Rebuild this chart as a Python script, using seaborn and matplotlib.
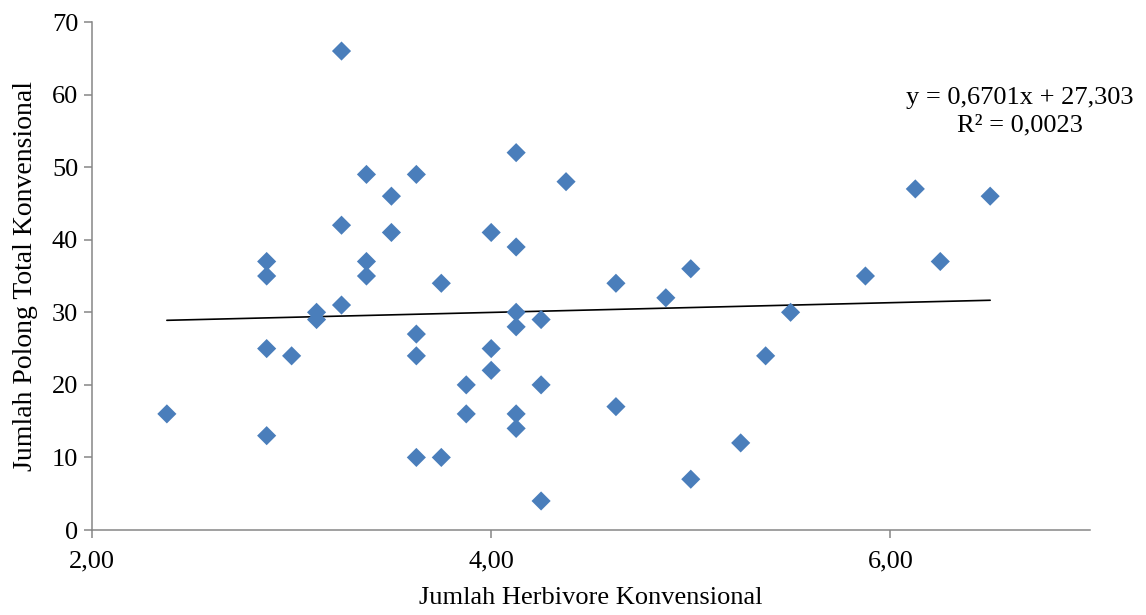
import matplotlib
matplotlib.use("Agg")
import matplotlib.pyplot as plt
import seaborn as sns
import numpy as np
import pandas as pd
from matplotlib.ticker import FuncFormatter

# Data
herbivore = [2.375, 2.875, 2.875, 2.875, 2.875, 3.0, 3.125, 3.125, 3.25, 3.25,
             3.25, 3.375, 3.375, 3.375, 3.5, 3.5, 3.625, 3.625, 3.625, 3.625,
             3.75, 3.75, 3.875, 3.875, 4.0, 4.0, 4.0, 4.125, 4.125, 4.125,
             4.125, 4.125, 4.125, 4.25, 4.25, 4.25, 4.375, 4.625, 4.625, 4.875,
             5.0, 5.0, 5.25, 5.375, 5.5, 5.875, 6.125, 6.25, 6.5]
polong = [16, 37, 35, 25, 13, 24, 30, 29, 66, 42,
          31, 49, 37, 35, 46, 41, 49, 27, 24, 10,
          10, 34, 20, 16, 41, 25, 22, 52, 39, 30,
          28, 16, 14, 29, 20, 4, 48, 34, 17, 32,
          36, 7, 12, 24, 30, 35, 47, 37, 46]

# Trendline as reported on the chart
slope = 0.6701
intercept = 27.303
r_squared = 0.0023

df = pd.DataFrame({'x': herbivore, 'y': polong})

sns.set_style('white')
plt.rcParams['font.family'] = ['Liberation Serif', 'DejaVu Serif']
plt.rcParams['text.color'] = 'black'
plt.rcParams['axes.labelcolor'] = 'black'

fig = plt.figure(figsize=(11.46, 6.15), dpi=100)
ax = fig.add_axes([0.0803, 0.1382, 0.8708, 0.8260])

sns.scatterplot(data=df, x='x', y='y', ax=ax, marker='D', s=95,
                color='#4A7EBB', edgecolor='none', linewidth=0, zorder=3)

# Linear trendline across the data range
x_line = np.array([min(herbivore), max(herbivore)])
ax.plot(x_line, slope * x_line + intercept, color='black', linewidth=1.2, zorder=2)

fmt = lambda v, d: f'{v:,.{d}f}'.replace('.', ',')
ax.text(6.65, 57.6,
        f'y = {fmt(slope, 4)}x + {fmt(intercept, 3)}\nR² = {fmt(r_squared, 4)}',
        ha='center', va='center', fontsize=19, linespacing=1.3)

ax.set_xlim(2, 7)
ax.set_ylim(0, 70)
ax.set_xticks([2, 4, 6])
ax.set_yticks(np.arange(0, 71, 10))
ax.xaxis.set_major_formatter(FuncFormatter(lambda v, p: f'{v:.2f}'.replace('.', ',')))

for side in ['top', 'right']:
    ax.spines[side].set_visible(False)
for side in ['left', 'bottom']:
    ax.spines[side].set_color('#868686')
    ax.spines[side].set_linewidth(1.1)

ax.tick_params(axis='both', which='major', direction='out', length=6, width=1.1,
               color='#868686', labelsize=19, labelcolor='black', pad=4)
ax.tick_params(axis='x', bottom=True, pad=9)
ax.tick_params(axis='y', left=True)

ax.set_xlabel('Jumlah Herbivore Konvensional', fontsize=19, labelpad=10)
ax.set_ylabel('Jumlah Polong Total Konvensional', fontsize=20, labelpad=10)

fig.savefig('out.png', dpi=100)
